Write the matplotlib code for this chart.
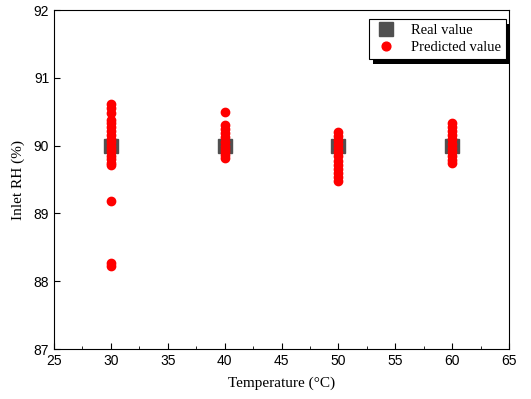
import matplotlib
matplotlib.use("Agg")
import matplotlib.pyplot as plt
from matplotlib.patches import Rectangle
from matplotlib.transforms import IdentityTransform

# Real (set-point) values
real_temp = [30, 40, 50, 60]
real_rh = [90.0, 90.0, 90.0, 90.0]

# Predicted values
pred_30 = [90.61, 90.56, 90.48, 90.38, 90.33, 90.28, 90.22, 90.15, 90.10, 90.05,
           90.00, 89.95, 89.90, 89.85, 89.80, 89.75, 89.71, 89.19, 88.27, 88.23]
pred_40 = [90.50, 90.30, 90.24, 90.18, 90.12, 90.06, 90.00, 89.95, 89.90, 89.86, 89.82]
pred_50 = [90.20, 90.14, 90.08, 90.02, 89.96, 89.90, 89.84, 89.78, 89.72, 89.66,
           89.60, 89.54, 89.48]
pred_60 = [90.33, 90.27, 90.21, 90.15, 90.09, 90.03, 89.97, 89.91, 89.85, 89.79, 89.74]

pred_temp = [30] * len(pred_30) + [40] * len(pred_40) + [50] * len(pred_50) + [60] * len(pred_60)
pred_rh = pred_30 + pred_40 + pred_50 + pred_60

fig = plt.figure(figsize=(5.31, 3.99), dpi=100)
ax = fig.add_axes([54 / 531, 1 - 349 / 399, (509 - 54) / 531, (349 - 10) / 399])

ax.plot(real_temp, real_rh, ls="none", marker="s", ms=10, color="#505050",
        label="Real value", zorder=2)
ax.plot(pred_temp, pred_rh, ls="none", marker="o", ms=6, color="red",
        label="Predicted value", zorder=3)

ax.set_xlim(25, 65)
ax.set_ylim(87, 92)
ax.set_xticks(range(25, 66, 5))
ax.set_xticks([27.5 + 5 * i for i in range(8)], minor=True)
ax.set_yticks(range(87, 93))
ax.tick_params(which="both", direction="in", top=False, right=False,
               labelsize=10)
ax.tick_params(which="major", length=4)
ax.tick_params(which="minor", length=2, left=False)
for lbl in ax.get_xticklabels() + ax.get_yticklabels():
    lbl.set_family("Liberation Sans")

serif = {"family": "Liberation Serif", "size": 11}
ax.set_xlabel("Temperature (\u00b0C)", fontdict=serif, labelpad=6)
ax.set_ylabel("Inlet RH (%)", fontdict=serif, labelpad=6)

leg = ax.legend(loc="upper right", bbox_to_anchor=(0.9934, 0.9735),
                borderaxespad=0, fancybox=False, shadow=False,
                edgecolor="black", framealpha=1,
                prop={"family": "Liberation Serif", "size": 10.5},
                handletextpad=0.9, borderpad=0.35, labelspacing=0.25,
                handlelength=1.6, markerscale=1.05)
leg.get_frame().set_linewidth(0.8)
leg.set_zorder(6)

# hard black drop shadow behind the legend box
fig.canvas.draw()
bb = leg.get_window_extent()
shadow = Rectangle((bb.x0 + 4, bb.y0 - 5), bb.width, bb.height,
                   transform=IdentityTransform(), facecolor="black",
                   edgecolor="none", zorder=5, clip_on=False)
ax.add_artist(shadow)

fig.savefig("out.png", dpi=100)
